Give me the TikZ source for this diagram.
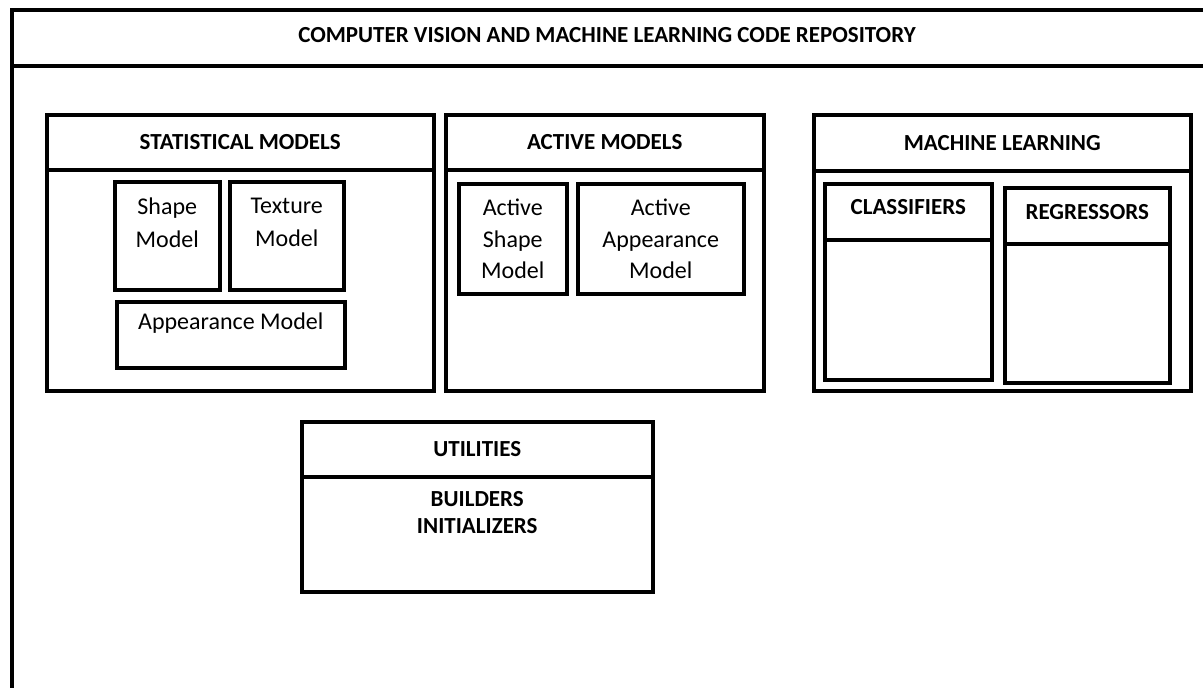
\documentclass[tikz,border=0pt]{standalone}
\usepackage{fontspec}
\setmainfont{Carlito}
\usetikzlibrary{positioning}

\begin{document}
\begin{tikzpicture}[
    x=1pt, y=-1pt,
    box/.style={draw, line width=3.5pt, anchor=north west, inner sep=0pt},
    head/.style={box, font=\fontsize{23}{27}\selectfont\bfseries},
    plain/.style={align=center, inner sep=0pt, anchor=north,
        font=\fontsize{24}{33}\selectfont},
    bold/.style={align=center, inner sep=0pt, anchor=north,
        font=\fontsize{23}{27}\selectfont\bfseries}
    ]

\useasboundingbox (0,0) rectangle (1203,688);

% repository frame, runs off the page on the right and below
\node[box, minimum width=1198, minimum height=56] (repo) at (10,8) {};
\node[box, minimum width=1198, minimum height=640] (repobody) at (10,64) {};
\node[bold] (repotext) at (607,27) {COMPUTER VISION AND MACHINE LEARNING CODE REPOSITORY};

%Statistical models
\node[head, minimum width=387, minimum height=55] (stat) at (45,113) {STATISTICAL MODELS};
\node[box, minimum width=387, minimum height=221] (statbody) at (45,168) {};
\node[box, minimum width=105, minimum height=108] (shape) at (113,180) {};
\node[plain, below=18pt of shape.north] (shapetext) {Shape\\Model};
\node[box, minimum width=114, minimum height=108] (texture) at (228,180) {};
\node[plain, below=18pt of texture.north] (texturetext) {Texture\\Model};
\node[box, minimum width=228, minimum height=66] (appear) at (115,300) {};
\node[plain, below=13pt of appear.north] (appeartext) {Appearance Model};

%Active models
\node[box, minimum width=108, minimum height=110] (asm) at (457,182) {};
\node[plain, below=17pt of asm.north, font=\fontsize{24}{31.5}\selectfont]
    (asmtext) {Active\\Shape\\Model};
\node[box, minimum width=166, minimum height=110] (aam) at (576,182) {};
\node[plain, below=17pt of aam.north, font=\fontsize{24}{31.5}\selectfont]
    (aamtext) {Active\\Appearance\\Model};
\node[head, minimum width=318, minimum height=55] (active) at (444,113) {ACTIVE MODELS};
\node[box, minimum width=318, minimum height=221] (activebody) at (444,168) {};

%Machine learning
\node[head, minimum width=377, minimum height=56] (ml) at (812,113) {MACHINE LEARNING};
\node[box, minimum width=377, minimum height=220] (mlbody) at (812,169) {};
\node[head, minimum width=167, minimum height=56, text depth=10pt] (clf) at (823,182) {CLASSIFIERS};
\node[box, minimum width=167, minimum height=140] (clfbody) at (823,238) {};
\node[head, minimum width=165, minimum height=56, text depth=8pt] (reg) at (1003,186) {REGRESSORS};
\node[box, minimum width=165, minimum height=139] (regbody) at (1003,242) {};

%Utilities
\node[head, minimum width=351, minimum height=55] (util) at (300,420) {UTILITIES};
\node[box, minimum width=351, minimum height=115] (utilbody) at (300,475) {};
\node[bold, below=16pt of utilbody.north] (utiltext) {BUILDERS\\INITIALIZERS};

\end{tikzpicture}
\end{document}
